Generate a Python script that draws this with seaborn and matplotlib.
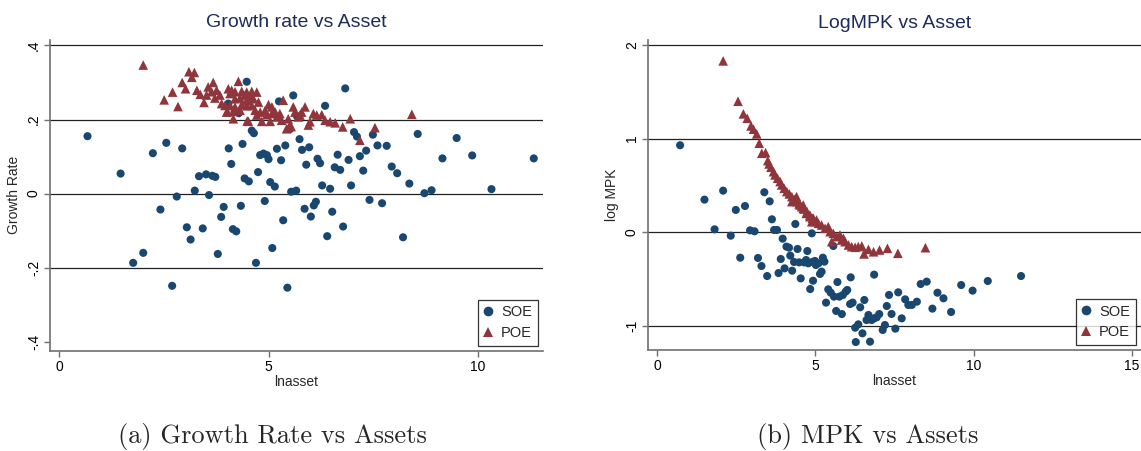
import numpy as np
import pandas as pd
import matplotlib
matplotlib.use("Agg")
import matplotlib.pyplot as plt
import seaborn as sns
from matplotlib.lines import Line2D

# ---------------- data: panel (a) Growth rate vs Asset ----------------
soe_g_x = [0.68, 1.47, 2.24, 2.56, 2.94, 3.34, 3.51, 3.66, 3.73, 3.24, 3.58, 2.81, 2.42, 3.05, 3.43, 3.14, 2.01, 1.77, 2.70,
           4.48, 5.59, 6.83, 5.25, 6.35, 4.29, 4.04, 5.68, 5.51, 4.60, 4.65, 5.74, 4.05, 4.38, 5.40, 5.20, 5.80, 5.97,
           4.80, 4.88, 4.96, 5.00, 5.30, 4.11, 5.90, 6.17, 6.23, 6.65, 6.91, 6.58, 6.71, 7.18, 7.33, 7.04, 7.11, 7.49,
           7.60, 7.26, 4.43, 4.53, 4.75, 5.04, 5.15, 5.54, 5.66, 6.28, 6.47, 6.97, 7.41, 7.71, 3.93, 3.87, 4.34, 4.91,
           5.86, 6.01, 6.08, 6.13, 6.52, 5.35, 4.15, 4.23, 6.40, 6.78, 3.79, 4.70, 5.09, 5.45,
           7.82, 8.56, 9.49, 9.15, 9.86, 11.33, 7.94, 8.07, 8.36, 8.72, 8.89, 10.32, 8.21]
soe_g_y = [0.155, 0.054, 0.109, 0.137, 0.122, 0.047, 0.052, 0.048, 0.045, 0.008, -0.004, -0.008, -0.043, -0.091, -0.094, -0.124, -0.160, -0.187, -0.249,
           0.302, 0.265, 0.284, 0.249, 0.237, 0.217, 0.243, 0.209, 0.174, 0.170, 0.163, 0.147, 0.122, 0.134, 0.130, 0.121, 0.118, 0.125,
           0.104, 0.108, 0.104, 0.093, 0.090, 0.080, 0.078, 0.094, 0.082, 0.105, 0.091, 0.071, 0.064, 0.101, 0.116, 0.166, 0.154, 0.159,
           0.130, 0.062, 0.041, 0.033, 0.058, 0.031, 0.019, 0.005, 0.008, 0.022, 0.013, 0.022, -0.017, -0.026, -0.036, -0.063, -0.033, -0.020,
           -0.041, -0.062, -0.032, -0.022, -0.049, -0.072, -0.096, -0.102, -0.115, -0.089, -0.163, -0.187, -0.147, -0.254,
           0.129, 0.161, 0.150, 0.095, 0.103, 0.095, 0.073, 0.055, 0.027, 0.001, 0.009, 0.012, -0.118]

poe_g_x = [2.01, 2.51, 2.71, 2.84, 2.94, 3.02, 3.10, 3.23, 3.17, 3.29, 3.37, 3.46, 3.56, 3.68, 3.64, 3.76, 3.52, 3.72, 3.84,
           3.88, 3.96, 4.04, 4.12, 4.08, 4.20, 4.28, 4.36, 4.48, 4.60, 4.72, 4.20, 4.32, 4.44, 4.48, 4.56, 4.64, 4.08, 4.20,
           4.36, 4.48, 4.60, 4.00, 4.16, 4.32, 4.16, 4.52, 4.76, 4.68, 4.80, 4.92, 5.00, 5.08, 4.72, 4.84, 4.96, 5.08, 5.16,
           5.04, 5.20, 5.27, 5.31, 5.35, 5.47, 5.43, 5.51, 5.59, 5.63, 5.71, 5.75, 5.79, 5.87, 5.95, 5.99, 6.07, 6.15, 6.27,
           6.35, 6.47, 6.59, 6.77, 6.95, 7.18, 7.54, 8.42, 4.02, 4.49, 5.54]
poe_g_y = [0.347, 0.253, 0.274, 0.235, 0.300, 0.283, 0.329, 0.327, 0.314, 0.279, 0.268, 0.246, 0.288, 0.300, 0.275, 0.279, 0.266, 0.258, 0.266,
           0.243, 0.238, 0.283, 0.279, 0.270, 0.275, 0.303, 0.276, 0.274, 0.276, 0.274, 0.256, 0.258, 0.266, 0.252, 0.261, 0.256, 0.238, 0.234,
           0.240, 0.237, 0.238, 0.220, 0.222, 0.225, 0.202, 0.195, 0.247, 0.225, 0.220, 0.225, 0.240, 0.234, 0.212, 0.195, 0.213, 0.216, 0.220,
           0.195, 0.207, 0.216, 0.198, 0.252, 0.202, 0.175, 0.185, 0.234, 0.220, 0.207, 0.212, 0.220, 0.234, 0.185, 0.194, 0.216, 0.212, 0.213,
           0.198, 0.194, 0.191, 0.180, 0.202, 0.144, 0.178, 0.214, 0.221, 0.196, 0.181]

# ---------------- data: panel (b) LogMPK vs Asset ----------------
soe_m_x = [0.73, 1.50, 2.09, 1.82, 2.33, 2.49, 2.78, 2.63, 2.94, 3.08, 3.19, 3.30, 3.48, 3.39, 3.56, 3.63, 3.70, 3.79,
           3.97, 4.09, 4.17, 3.91, 3.84, 4.03, 4.27, 4.21, 4.44, 4.37, 4.75, 4.33, 4.49, 4.65, 4.78, 4.71, 4.91, 4.54,
           4.84, 4.93, 4.89, 5.57, 4.99, 5.10, 5.24, 5.29, 5.02, 5.15, 5.20, 5.70, 6.12, 6.86, 5.41, 5.49, 5.34, 5.59,
           5.76, 5.87, 5.96, 6.01, 5.66, 5.84, 6.10, 6.18, 6.55, 6.42, 6.26, 6.36, 6.49, 6.28, 6.73, 6.68, 6.62, 6.78,
           6.94, 7.02, 6.86, 7.13, 7.20, 7.53, 7.26, 7.41, 7.73, 7.33, 7.62, 7.84, 7.94, 8.05, 8.21, 8.33, 8.52, 8.70,
           8.86, 9.05, 9.29, 9.61, 9.97, 10.45, 11.50]
soe_m_y = [0.930, 0.349, 0.445, 0.032, -0.036, 0.239, 0.281, -0.271, 0.021, 0.011, -0.274, -0.360, -0.467, 0.428, 0.331, 0.139, 0.025, 0.025,
           -0.068, -0.153, -0.164, -0.285, -0.435, -0.385, -0.410, -0.249, -0.178, 0.089, -0.200, -0.317, -0.321, -0.321, -0.331, -0.296, -0.317, -0.492,
           -0.606, -0.517, -0.011, -0.146, -0.306, -0.331, -0.271, -0.313, -0.349, -0.445, -0.420, -0.531, -0.481, -0.452, -0.609, -0.645, -0.751, -0.687,
           -0.687, -0.670, -0.634, -0.616, -0.840, -0.873, -0.766, -0.751, -0.723, -0.801, -1.019, -0.983, -1.079, -1.172, -1.168, -0.883, -0.937, -0.937,
           -0.908, -0.873, -0.919, -1.043, -0.990, -1.029, -0.787, -0.872, -0.919, -0.669, -0.641, -0.716, -0.776, -0.776, -0.741, -0.552, -0.527, -0.815,
           -0.645, -0.705, -0.851, -0.563, -0.623, -0.520, -0.467]

poe_m_x = [2.09, 2.56, 2.73, 2.85, 2.97, 3.05, 3.15, 3.23, 3.31, 3.43, 3.50, 3.54, 3.60, 3.68, 3.73, 3.81, 3.89,
           3.94, 4.02, 4.10, 4.18, 4.26, 4.34, 4.41, 4.49, 4.57, 4.65, 4.74, 4.83, 4.91, 4.97, 4.26, 4.41, 4.62, 4.72, 4.89,
           4.52, 4.62, 4.73, 4.83, 4.94, 5.04, 5.10, 5.20, 5.31, 5.41, 5.47, 5.57, 5.68, 5.78, 5.83, 5.94, 6.05, 6.15,
           6.26, 6.36, 6.47, 6.54, 6.68, 6.84, 7.03, 7.28, 7.61, 8.48, 5.52, 5.89]
poe_m_y = [1.831, 1.400, 1.265, 1.218, 1.136, 1.101, 1.051, 0.951, 0.844, 0.851, 0.766, 0.730, 0.695, 0.648, 0.613, 0.577, 0.542,
           0.506, 0.470, 0.435, 0.410, 0.381, 0.353, 0.328, 0.303, 0.274, 0.249, 0.221, 0.185, 0.150, 0.114, 0.328, 0.381, 0.292, 0.203, 0.114,
           0.292, 0.256, 0.203, 0.167, 0.150, 0.132, 0.096, 0.078, 0.043, 0.061, 0.007, -0.011, -0.046, -0.028, -0.082, -0.100, -0.135, -0.153,
           -0.160, -0.153, -0.146, -0.231, -0.182, -0.208, -0.189, -0.171, -0.224, -0.164, -0.100, -0.064]

groups = ["SOE", "POE"]
colors = {"SOE": "#1a476f", "POE": "#90353b"}
markers = {"SOE": "o", "POE": "^"}
msizes = {"SOE": 34, "POE": 48}

df_g = pd.DataFrame({
    "lnasset": soe_g_x + poe_g_x,
    "val": soe_g_y + poe_g_y,
    "type": ["SOE"] * len(soe_g_x) + ["POE"] * len(poe_g_x),
})
df_m = pd.DataFrame({
    "lnasset": soe_m_x + poe_m_x,
    "val": soe_m_y + poe_m_y,
    "type": ["SOE"] * len(soe_m_x) + ["POE"] * len(poe_m_x),
})

sns.set_theme(style="white")
plt.rcParams["font.family"] = ["Liberation Sans", "DejaVu Sans"]

W, H = 1141, 451
fig = plt.figure(figsize=(W / 100, H / 100), dpi=100)
fig.patch.set_facecolor("white")


def px_axes(l, t, r, b):
    return fig.add_axes([l / W, 1 - b / H, (r - l) / W, (b - t) / H])


ax1 = px_axes(50, 39.5, 543, 351)
ax2 = px_axes(648, 40, 1141, 350)

title_color = "#1c2b59"
spine_color = "#707070"


def style(ax, df, title, ylabel, xlim, ylim, xticks, yticks, ylabels, gridvals):
    sns.scatterplot(data=df, x="lnasset", y="val", hue="type", style="type",
                    size="type", sizes=msizes, size_order=groups,
                    hue_order=groups, style_order=groups, palette=colors,
                    markers=markers, linewidth=0, legend=False, ax=ax,
                    zorder=3)
    ax.set_xlim(*xlim)
    ax.set_ylim(*ylim)
    ax.set_xticks(xticks)
    ax.set_xticklabels([str(t) for t in xticks])
    ax.set_yticks(yticks)
    ax.set_yticklabels(ylabels, rotation=90, va="center")
    ax.grid(False)
    for g in gridvals:
        ax.axhline(g, color="#222222", linewidth=0.9, zorder=1)
    for s in ["top", "right"]:
        ax.spines[s].set_visible(False)
    for s in ["left", "bottom"]:
        ax.spines[s].set_color(spine_color)
        ax.spines[s].set_linewidth(1.2)
    ax.tick_params(axis="both", which="major", direction="out", length=4,
                   width=1.0, color=spine_color, labelsize=10, labelcolor="black",
                   left=True, bottom=True, pad=2.5)
    ax.set_title(title, fontsize=14, color=title_color, pad=9)
    ax.set_xlabel("lnasset", fontsize=10, labelpad=1)
    ax.set_ylabel(ylabel, fontsize=10, labelpad=4)
    handles = [Line2D([0], [0], marker=markers[g], color="none", markerfacecolor=colors[g],
                      markeredgewidth=0, markersize=7, label=g) for g in groups]
    leg = ax.legend(handles=handles, loc="lower right", frameon=True, fancybox=False,
                    edgecolor="black", fontsize=10.5, handlelength=0.6, handletextpad=0.6,
                    borderpad=0.4, labelspacing=0.45, borderaxespad=0.35)
    leg.get_frame().set_linewidth(0.9)


style(ax1, df_g, "Growth rate vs Asset", "Growth Rate", (-0.215, 11.55), (-0.425, 0.416),
      [0, 5, 10], [-0.4, -0.2, 0, 0.2, 0.4], ["-.4", "-.2", "0", ".2", ".4"],
      [-0.2, 0, 0.2, 0.4])
style(ax2, df_m, "LogMPK vs Asset", "log MPK", (-0.284, 15.29), (-1.257, 2.054),
      [0, 5, 10, 15], [-1, 0, 1, 2], ["-1", "0", "1", "2"], [-1, 0, 1, 2])

fig.text(272.5 / W, 1 - 437 / H, "(a) Growth Rate vs Assets", family="cmr10",
         fontsize=19, ha="center", va="center")
fig.text(867.5 / W, 1 - 437 / H, "(b) MPK vs Assets", family="cmr10",
         fontsize=19, ha="center", va="center")

fig.savefig("out.png", dpi=100, facecolor="white")
